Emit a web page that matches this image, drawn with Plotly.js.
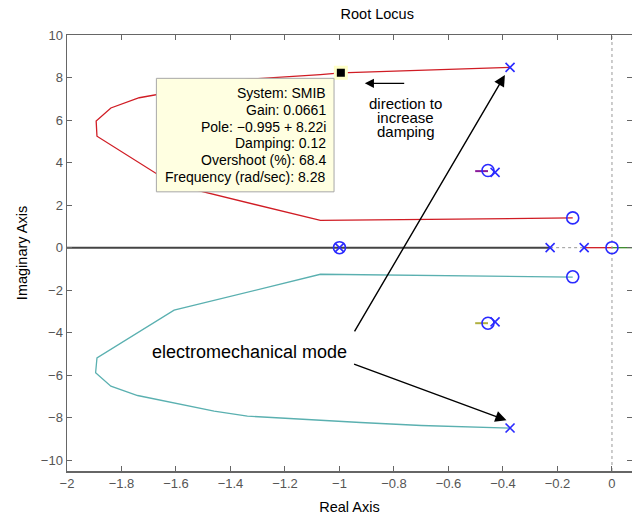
<!DOCTYPE html>
<html>
<head>
<meta charset="utf-8">
<script src="https://cdn.plot.ly/plotly-3.0.1.min.js"></script>
<style>html,body{margin:0;padding:0;background:#fff;}#chart{width:632px;height:518px;}</style>
</head>
<body>
<div id="chart"></div>
<script>
// ---- data ----
var upperLocusX = [-0.374, -0.7, -0.995, -1.07, -1.338, -1.46, -1.735, -1.839, -1.893, -1.89, -1.607, -1.07, -0.144];
var upperLocusY = [8.48, 8.36, 8.22, 8.14, 7.92, 7.68, 7.05, 6.57, 5.96, 5.24, 2.96, 1.28, 1.40];
var lowerLocusX = [-0.374, -0.7, -0.923, -1.07, -1.338, -1.46, -1.741, -1.839, -1.895, -1.89, -1.607, -1.07, -0.144];
var lowerLocusY = [-8.48, -8.36, -8.22, -8.12, -7.92, -7.68, -6.95, -6.51, -5.88, -5.18, -2.94, -1.25, -1.38];
var purpleX = [-0.502, -0.455];
var purpleY = [3.6, 3.6];
var oliveX = [-0.502, -0.455];
var oliveY = [-3.55, -3.55];
var realAxisBlackX = [-2, -0.227];
var realAxisDottedX = [-0.227, -0.102];
var realAxisRedX = [-0.102, 0];
var realAxisGreenX = [0, 0.08];
var poleX = [-0.374, -0.374, -0.429, -0.429, -0.227, -0.102, -1];
var poleY = [8.48, -8.48, 3.54, -3.49, 0, 0, 0];
var zeroX = [-0.455, -0.455, -0.144, -0.144, 0, -1];
var zeroY = [3.63, -3.55, 1.40, -1.37, 0, 0];
var selX = [-0.995];
var selY = [8.22];
var tipLines = ["System: SMIB", "Gain: 0.0661", "Pole: \u22120.995 + 8.22i", "Damping: 0.12", "Overshoot (%): 68.4", "Frequency (rad/sec): 8.28"];
var tipLineY = [7.26, 6.47, 5.66, 4.90, 4.12, 3.33];
var dirLines = ["direction to", "increase", "damping"];
var dirLineY = [6.80, 6.12, 5.47];
var xTicks = [-2, -1.8, -1.6, -1.4, -1.2, -1, -0.8, -0.6, -0.4, -0.2, 0];
var yTicks = [-10, -8, -6, -4, -2, 0, 2, 4, 6, 8, 10];

var FONT = "Liberation Sans, Arial, Helvetica, sans-serif";
var traces = [
  {x: realAxisBlackX, y: [0, 0], mode: 'lines', line: {color: '#444', width: 2}},
  {x: realAxisDottedX, y: [0, 0], mode: 'lines', line: {color: '#999', width: 1, dash: 'dot'}},
  {x: realAxisRedX, y: [0, 0], mode: 'lines', line: {color: '#d01c24', width: 1.3}},
  {x: realAxisGreenX, y: [0, 0], mode: 'lines', line: {color: '#3a8a2a', width: 1.3}},
  {x: [0, 0], y: [-10.5, 10], mode: 'lines', line: {color: '#999', width: 1, dash: 'dot'}},
  {x: upperLocusX, y: upperLocusY, mode: 'lines', line: {color: '#d01c24', width: 1.3}},
  {x: lowerLocusX, y: lowerLocusY, mode: 'lines', line: {color: '#5ab0b0', width: 1.3}},
  {x: purpleX, y: purpleY, mode: 'lines', line: {color: '#8a1a9a', width: 2}},
  {x: oliveX, y: oliveY, mode: 'lines', line: {color: '#b0b040', width: 2}},
  {x: zeroX, y: zeroY, mode: 'markers', marker: {symbol: 'circle-open', size: 12, color: '#2a2aff', line: {width: 1.6, color: '#2a2aff'}}},
  {x: poleX, y: poleY, mode: 'markers', marker: {symbol: 'x-thin-open', size: 9, color: '#2a2aff', line: {width: 1.6, color: '#2a2aff'}}},
  {x: selX, y: selY, mode: 'markers', marker: {symbol: 'square', size: 11, color: '#000', line: {width: 3, color: '#ffffc8'}}}
];

var annotations = [];
tipLines.forEach(function(t, i) {
  annotations.push({x: -1.044, y: tipLineY[i], xref: 'x', yref: 'y', text: t, showarrow: false,
    xanchor: 'right', yanchor: 'middle', font: {family: FONT, size: 14, color: '#000'}});
});
dirLines.forEach(function(t, i) {
  annotations.push({x: -0.757, y: dirLineY[i], xref: 'x', yref: 'y', text: t, showarrow: false,
    xanchor: 'center', yanchor: 'middle', borderpad: 0,
    font: {family: FONT, size: 15, color: '#000'}});
});
annotations.push({x: -1.3286, y: -4.90, xref: 'x', yref: 'y', text: 'electromechanical mode', showarrow: false,
  xanchor: 'center', yanchor: 'middle', font: {family: FONT, size: 18, color: '#000'}});
// arrows
annotations.push({x: -0.907, y: 7.727, ax: -0.757, ay: 7.727, xref: 'x', yref: 'y', axref: 'x', ayref: 'y',
  text: '', showarrow: true, arrowhead: 2, arrowsize: 1.4, arrowwidth: 1.3, arrowcolor: '#000'});
annotations.push({x: -0.393, y: 8.118, ax: -0.948, ay: -4.009, xref: 'x', yref: 'y', axref: 'x', ayref: 'y',
  text: '', showarrow: true, arrowhead: 2, arrowsize: 1.6, arrowwidth: 1.4, arrowcolor: '#000'});
annotations.push({x: -0.387, y: -8.118, ax: -0.952, ay: -5.45, xref: 'x', yref: 'y', axref: 'x', ayref: 'y',
  text: '', showarrow: true, arrowhead: 2, arrowsize: 1.6, arrowwidth: 1.4, arrowcolor: '#000'});

var layout = {
  width: 632, height: 518,
  margin: {l: 67, r: 0, t: 35, b: 47},
  paper_bgcolor: '#fff', plot_bgcolor: '#fff',
  showlegend: false,
  font: {family: FONT, color: '#000'},
  title: {text: 'Root Locus', font: {family: FONT, size: 14.5, color: '#000'}, x: 347/632, xref: 'paper', xanchor: 'center', y: 1 - 14/518, yanchor: 'middle'},
  xaxis: {range: [-2, 0.0735], tickvals: xTicks, ticks: 'inside', ticklen: 5, tickcolor: '#666', tickwidth: 1,
    showline: true, linecolor: '#666', linewidth: 1.5, mirror: 'ticks', showgrid: false, zeroline: false,
    tickfont: {family: FONT, size: 13, color: '#555'},
    title: {text: 'Real Axis', font: {family: FONT, size: 14.5, color: '#000'}, standoff: 12}},
  yaxis: {range: [-10.5, 10], tickvals: yTicks, ticks: 'inside', ticklen: 5, tickcolor: '#666', tickwidth: 1,
    showline: true, linecolor: '#666', linewidth: 1.5, mirror: 'ticks', showgrid: false, zeroline: false,
    tickfont: {family: FONT, size: 13, color: '#555'},
    title: {text: 'Imaginary Axis', font: {family: FONT, size: 14.5, color: '#000'}, standoff: 10}},
  shapes: [{type: 'rect', xref: 'x', yref: 'y', x0: -1.672, x1: -1.020, y0: 2.626, y1: 7.962,
    fillcolor: '#ffffe1', line: {color: '#a8a8a8', width: 1}, layer: 'above'}],
  annotations: annotations
};

Plotly.newPlot('chart', traces, layout, {displayModeBar: false, staticPlot: true});
</script>
</body>
</html>
